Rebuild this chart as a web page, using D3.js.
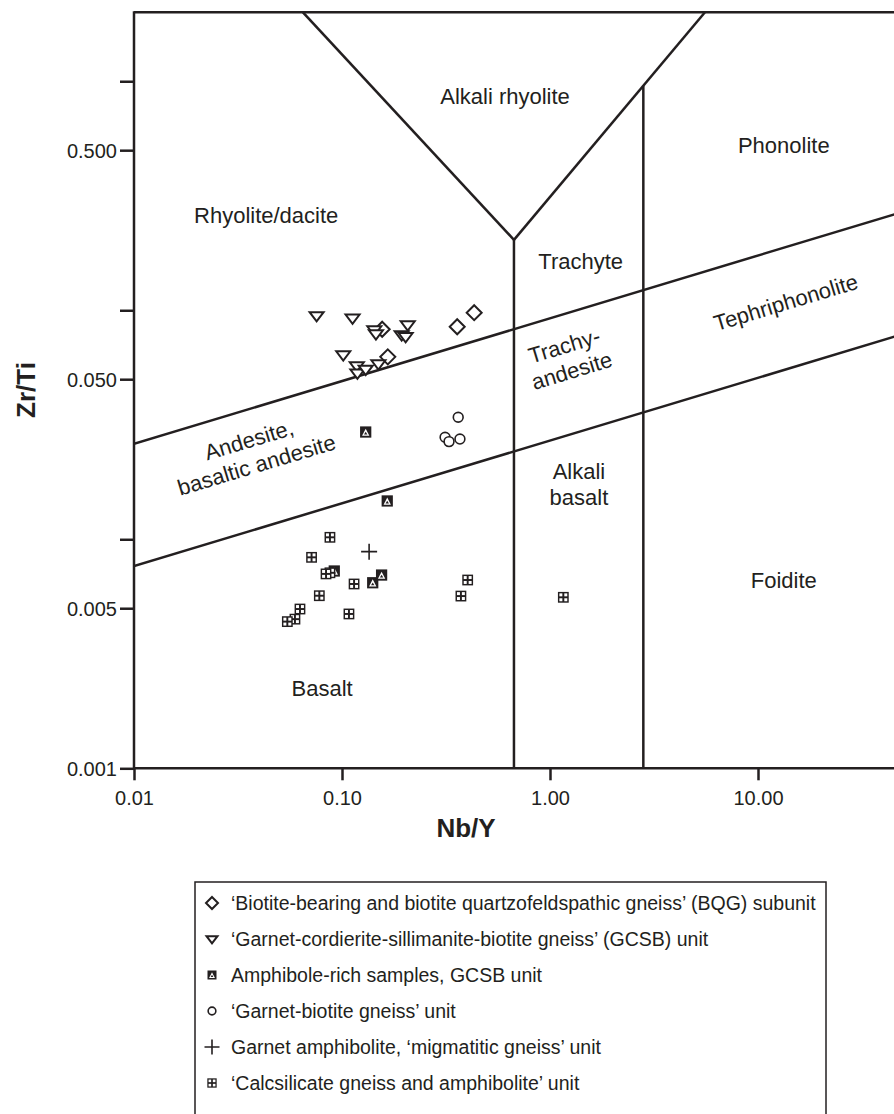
<!DOCTYPE html>
<html><head><meta charset="utf-8">
<script src="https://cdn.jsdelivr.net/npm/d3@7"></script>
<style>
html,body{margin:0;padding:0;background:#fff;}
svg{display:block;font-family:"Liberation Sans",Arial,sans-serif;}
</style></head>
<body>
<svg id="chart" width="894" height="1114"></svg>
<script>
// ---------- data ----------
const xTicks = [0.01, 0.1, 1, 10];
const xTickLabels = ["0.01", "0.10", "1.00", "10.00"];
const yTicks = [0.001, 0.005, 0.01, 0.05, 0.1, 0.5, 1];
const yTickLabels = ["0.001", "0.005", "", "0.050", "", "0.500", ""];

const bqg = [[0.156,0.0826],[0.358,0.0847],[0.432,0.0976],[0.166,0.0626]];
const gcsb = [[0.0755,0.0946],[0.1124,0.0923],[0.143,0.082],[0.1456,0.0788],[0.207,0.0863],
  [0.1936,0.078],[0.2023,0.0767],[0.1014,0.0638],[0.1178,0.0571],[0.1186,0.0531],[0.130,0.0552],[0.1496,0.0583]];
const amphRich = [[0.130,0.0294],[0.165,0.0147],[0.0918,0.00727],[0.1405,0.00646],[0.155,0.00698]];
const garnetBiotite = [[0.362,0.0341],[0.313,0.0279],[0.327,0.0267],[0.369,0.0274]];
const garnetAmph = [[0.135,0.00883]];
const calcsilicate = [[0.0875,0.0102],[0.0714,0.00834],[0.0875,0.00714],[0.0838,0.00706],[0.1143,0.00638],
  [0.0778,0.00567],[0.0628,0.00496],[0.0594,0.00448],[0.0546,0.00437],[0.108,0.00472],
  [0.402,0.00664],[0.373,0.00565],[1.159,0.00558]];

// field boundaries (Nb/Y, Zr/Ti)
const boundaries = [
  [[0.0649,2],[0.671,0.203]],
  [[0.671,0.203],[5.56,2]],
  [[0.671,0.203],[0.671,0.001]],
  [[2.81,0.955],[2.81,0.001]],
  [[0.01,0.0261],[100,0.326]],
  [[0.01,0.00764],[100,0.0953]]
];
const fieldLabels = [
  {t:["Alkali rhyolite"], x:0.608, y:0.863, r:0},
  {t:["Phonolite"], x:13.3, y:0.527, r:0},
  {t:["Rhyolite/dacite"], x:0.0432, y:0.261, r:0},
  {t:["Trachyte"], x:1.405, y:0.164, r:0},
  {t:["Tephriphonolite"], x:13.6, y:0.1086, r:-16.75},
  {t:["Trachy-","andesite"], x:1.22, y:0.0619, r:-16.75},
  {t:["Andesite,","basaltic andesite"], x:0.0372, y:0.024, r:-16.75},
  {t:["Alkali","basalt"], x:1.378, y:0.01744, r:0},
  {t:["Foidite"], x:13.3, y:0.00664, r:0},
  {t:["Basalt"], x:0.0802, y:0.00224, r:0}
];
const legendNames = [
  "\u2018Biotite-bearing and biotite quartzofeldspathic gneiss\u2019 (BQG) subunit",
  "\u2018Garnet-cordierite-sillimanite-biotite gneiss\u2019 (GCSB) unit",
  "Amphibole-rich samples, GCSB unit",
  "\u2018Garnet-biotite gneiss\u2019 unit",
  "Garnet amphibolite, \u2018migmatitic gneiss\u2019 unit",
  "\u2018Calcsilicate gneiss and amphibolite\u2019 unit"
];
const symbolKeys = ["diamond","triangle","amph","circle","plus","grid"];
const seriesData = [bqg, gcsb, amphRich, garnetBiotite, garnetAmph, calcsilicate];

// ---------- layout ----------
const ink = "#231f20";
const svg = d3.select("#chart");
const x = d3.scaleLog().domain([0.01, 100]).range([134, 966]);
const y = d3.scaleLog().domain([0.001, 2]).range([768.3, 12.3]);

svg.append("defs").append("clipPath").attr("id","plotclip")
  .append("rect").attr("x",134).attr("y",12.3).attr("width",832).attr("height",756);

// axes
const yAxis = d3.axisLeft(y).tickValues(yTicks).tickSize(14).tickSizeOuter(0)
  .tickFormat((d,i)=>yTickLabels[i]);
const gy = svg.append("g").attr("transform","translate(134,0)").call(yAxis);
const xAxis = d3.axisBottom(x).tickValues(xTicks).tickSize(12).tickSizeOuter(0)
  .tickFormat((d,i)=>xTickLabels[i]);
const gx = svg.append("g").attr("transform","translate(0,768.3)").call(xAxis);
[gx, gy].forEach(g=>{
  g.select(".domain").remove();
  g.selectAll(".tick line").attr("stroke",ink).attr("stroke-width",2.5);
  g.selectAll(".tick text").attr("fill",ink).style("font-size","20px")
   .style("font-family","'Liberation Sans',Arial,sans-serif");
});
gy.selectAll(".tick text").attr("x",-17).attr("dy","0.36em");
gx.selectAll(".tick text").attr("y",30).attr("dy","0.36em");

// frame
const frame = svg.append("g").attr("stroke",ink).attr("stroke-width",2.5).attr("fill","none");
frame.append("line").attr("x1",x(0.01)).attr("x2",x(100)).attr("y1",y(2)).attr("y2",y(2));
frame.append("line").attr("x1",x(0.01)).attr("x2",x(100)).attr("y1",y(0.001)).attr("y2",y(0.001));
frame.append("line").attr("x1",x(0.01)).attr("x2",x(0.01)).attr("y1",y(2)-1).attr("y2",y(0.001));
frame.append("line").attr("x1",x(100)).attr("x2",x(100)).attr("y1",y(2)).attr("y2",y(0.001));

// field boundaries
const line = d3.line().x(d=>x(d[0])).y(d=>y(d[1]));
svg.append("g").attr("clip-path","url(#plotclip)")
  .selectAll("path").data(boundaries).join("path")
  .attr("d",line).attr("fill","none").attr("stroke",ink).attr("stroke-width",2.5);

// field labels
const fl = svg.append("g").attr("fill",ink).style("font-size","22px").attr("text-anchor","middle");
fieldLabels.forEach(l=>{
  const t = fl.append("text")
    .attr("transform",`translate(${x(l.x)},${y(l.y)}) rotate(${l.r})`);
  const n = l.t.length;
  l.t.forEach((s,i)=>{
    t.append("tspan").attr("x",0).attr("y",(i-(n-1)/2)*26).attr("dy","0.36em").text(s);
  });
});

// axis titles
svg.append("text").attr("x",466).attr("y",837)
  .attr("text-anchor","middle").attr("fill",ink)
  .style("font-size","26px").style("font-weight","bold").text("Nb/Y");
svg.append("text").attr("transform","translate(35,390) rotate(-90)")
  .attr("text-anchor","middle").attr("fill",ink)
  .style("font-size","26px").style("font-weight","bold").text("Zr/Ti");

// symbols
function drawSymbol(g, key, s){
  const sw = 2;
  if(key==="diamond"){
    g.append("path").attr("d",`M0,${-s}L${s},0L0,${s}L${-s},0Z`).attr("fill","#fff").attr("stroke",ink).attr("stroke-width",sw);
  } else if(key==="triangle"){
    const h = s*0.95;
    g.append("path").attr("d",`M${-s},${-h*0.55}L${s},${-h*0.55}L0,${h*0.85}Z`).attr("fill","#fff").attr("stroke",ink).attr("stroke-width",sw);
  } else if(key==="circle"){
    g.append("circle").attr("r",s*0.7).attr("fill","#fff").attr("stroke",ink).attr("stroke-width",1.6);
  } else if(key==="plus"){
    g.append("path").attr("d",`M${-s},0H${s}M0,${-s}V${s}`).attr("stroke",ink).attr("stroke-width",1.6);
  } else if(key==="grid"){
    const a = s*0.72;
    g.append("rect").attr("x",-a).attr("y",-a).attr("width",2*a).attr("height",2*a).attr("fill",ink);
    const q = a*0.55, o = a*0.18;
    [[-1,-1],[1,-1],[-1,1],[1,1]].forEach(([i,j])=>{
      g.append("rect").attr("x", i<0 ? -o-q : o).attr("y", j<0 ? -o-q : o)
        .attr("width",q).attr("height",q).attr("fill","#fff");
    });
  } else if(key==="amph"){
    const a = s*0.75;
    g.append("rect").attr("x",-a).attr("y",-a).attr("width",2*a).attr("height",2*a).attr("fill",ink);
    g.append("path").attr("d",`M0,${-a*0.6}L${a*0.65},${a*0.68}L${-a*0.65},${a*0.68}Z`).attr("fill","#fff");
    g.append("path").attr("d",`M0,${-a*0.05}L${a*0.3},${a*0.45}L${-a*0.3},${a*0.45}Z`).attr("fill",ink);
  }
}
const sizes = {diamond:7.5, triangle:7, amph:7.5, circle:7, plus:8, grid:7.5};
const pts = svg.append("g");
seriesData.forEach((arr,k)=>{
  arr.forEach(d=>{
    const g = pts.append("g").attr("transform",`translate(${x(d[0])},${y(d[1])})`);
    drawSymbol(g, symbolKeys[k], sizes[symbolKeys[k]]);
  });
});

// legend
const lg = svg.append("g");
lg.append("rect").attr("x",195).attr("y",882).attr("width",631).attr("height",260)
  .attr("fill","none").attr("stroke",ink).attr("stroke-width",1.5);
const legSizes = {diamond:6, triangle:5.5, amph:6, circle:5.5, plus:7.5, grid:6.5};
legendNames.forEach((name,i)=>{
  const cy = 903 + i*36;
  const g = lg.append("g").attr("transform",`translate(212,${cy})`);
  drawSymbol(g, symbolKeys[i], legSizes[symbolKeys[i]]);
  lg.append("text").attr("x",231).attr("y",cy).attr("dy","0.36em").attr("fill",ink)
    .style("font-size","19.5px").text(name);
});
</script>
</body></html>
